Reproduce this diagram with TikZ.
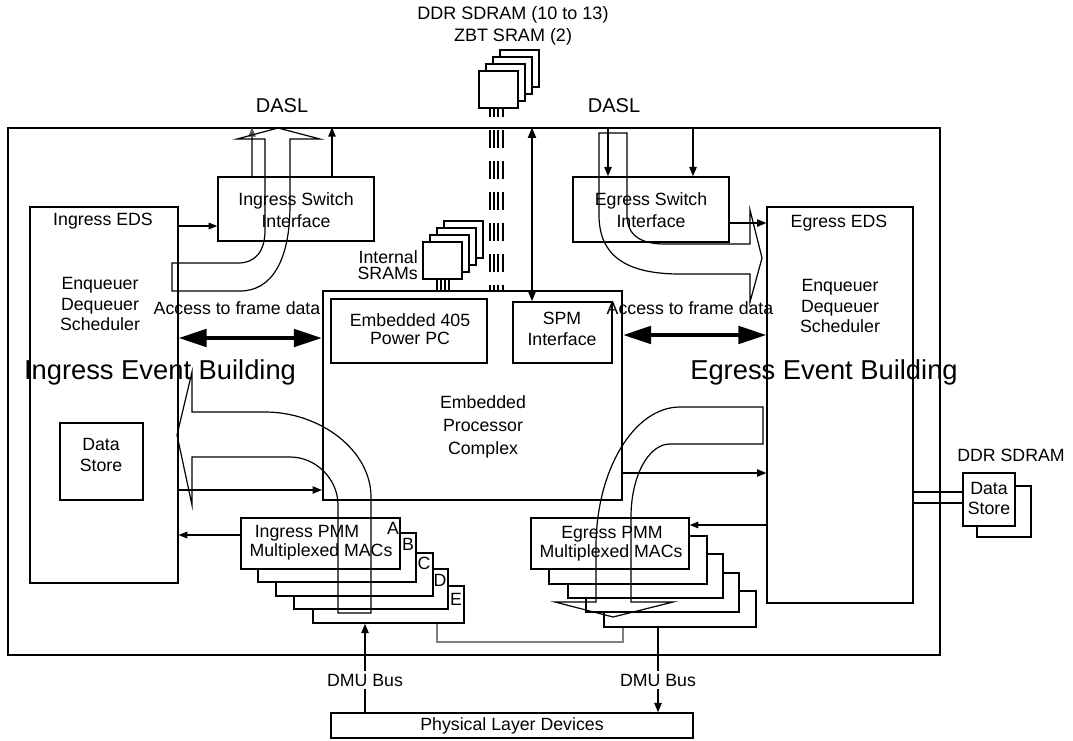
\documentclass[tikz,border=0pt]{standalone}
\usepackage{fontspec}
\setmainfont{Liberation Sans}
\usetikzlibrary{arrows.meta,fit}
\begin{document}
\begin{tikzpicture}[x=0.75pt,y=-0.75pt,
  box/.style={draw, line width=1.1pt, fill=white, inner sep=0pt},
  tbox/.style={box, line width=1.6pt},
  txt/.style={font=\fontsize{13.3}{16}\selectfont, align=center, inner sep=0pt},
  big/.style={font=\fontsize{20.5}{24}\selectfont, inner sep=0pt},
  hollow/.style={line width=0.9pt, black},
  arr/.style={line width=1.1pt, -{Triangle[length=7pt,width=5.5pt]}},
  thinarr/.style={line width=0.8pt, -{Triangle[length=6.5pt,width=5pt]}},
  bigarr/.style={line width=3pt, {Triangle[length=21pt,width=13pt]}-{Triangle[length=21pt,width=13pt]}},
  dbl/.style={line width=1.5pt, {Triangle[length=8pt,width=6pt]}-{Triangle[length=8pt,width=6pt]}},
  dashbus/.style={line width=1.1pt, dash pattern=on 13.5pt off 9.75pt, dash phase=7.5pt},
]
\useasboundingbox (0,0) rectangle (1073,740);
% board
\node[draw, line width=1.1pt, inner sep=0pt, fit={(8,128) (940,655)}] (board) {};
% top memory stack
\node[box, fit={(500,50) (539,87)}] (m4) {};
\node[box, fit={(493,57) (532,94)}] (m3) {};
\node[box, fit={(486,64) (525,101)}] (m2) {};
\node[box, fit={(479,71) (518,108)}] (m1) {};
\node[txt, font=\fontsize{13.5}{16.5}\selectfont] (ddrt) at (513,26) {DDR SDRAM (10 to 13)\\ZBT SRAM (2)};
% DASL labels
\node[txt, font=\fontsize{15}{18}\selectfont] (dasl1) at (282,106) {DASL};
\node[txt, font=\fontsize{15}{18}\selectfont] (dasl2) at (614,106) {DASL};
% main blocks
\node[box, line width=0.9pt, fit={(30,207) (178,583)}] (ieds) {};
\node[box, fit={(60,423) (143,500)}] (ids) {};
\node[box, line width=0.9pt, fit={(767,207) (913,603)}] (eeds) {};
\node[box, fit={(218,177) (374,241)}] (isi) {};
\node[box, fit={(573,177) (729,242)}] (esi) {};
\node[tbox, fit={(323,291) (622,500)}] (proc) {};
\node[box, fit={(331,299) (487,363)}] (ppc) {};
\node[box, fit={(513,302) (612,363)}] (spm) {};
% internal SRAMs
\node[box, fit={(444,221) (483,258)}] (s4) {};
\node[box, fit={(437,228) (476,265)}] (s3) {};
\node[box, fit={(430,235) (469,272)}] (s2) {};
\node[box, fit={(423,242) (462,279)}] (s1) {};
\foreach \x in {437,441,445,449} \draw[line width=1.1pt] (s1.south -| \x,0) -- (proc.north -| \x,0);
\foreach \x in {490,494,498,503} \draw[dashbus] (m1.south -| \x,0) -- (proc.north -| \x,0);
% Ingress PMM stack
\node[box, fit={(313,586) (464,623)}] (ip5) {};
\node[box, fit={(294,569) (448,609)}] (ip4) {};
\node[box, fit={(276,553) (433,596)}] (ip3) {};
\node[box, fit={(258,533) (416,582)}] (ip2) {};
\node[box, fit={(241,518) (400,569)}] (ip1) {};
% Egress PMM stack
\node[box, fit={(604,591) (756,627)}] (ep5) {};
\node[box, fit={(586,573) (739,612)}] (ep4) {};
\node[box, fit={(568,554) (723,598)}] (ep3) {};
\node[box, fit={(549,536) (707,584)}] (ep2) {};
\node[box, fit={(531,518) (689,569)}] (ep1) {};
% physical layer
\node[box, fit={(331,713) (693,738)}] (phys) {};
% external data store
\node[box, fit={(977,486) (1031,537)}] (xds2) {};
\node[box, fit={(963,473) (1015,526)}] (xds1) {};
\draw[line width=1.1pt] (eeds.east |- 0,492) -- (xds1.west |- 0,492);
\draw[line width=1.1pt] (eeds.east |- 0,503) -- (xds1.west |- 0,503);
% connector between PMM stacks
\draw[line width=0.8pt, gray] (ip5.south -| 437,0) -- (437,642) -- (623,642) -- (ep5.south -| 623,0);
% switch interface arrows
\draw[arr, draw=gray!70!black] (isi.north -| 252,0) -- (board.north -| 252,0);
\draw[arr] (isi.north -| 332,0) -- (board.north -| 332,0);
\draw[arr] (board.north -| 608,0) -- (esi.north -| 608,0);
\draw[arr] (board.north -| 693,0) -- (esi.north -| 693,0);
\draw[dbl] (board.north -| 532,0) -- (spm.north -| 532,0);
\draw[thinarr] (ieds.east |- 0,226) -- (isi.west |- 0,226);
\draw[arr] (esi.east |- 0,223) -- (eeds.west |- 0,223);
\draw[arr] (ieds.east |- 0,490) -- (proc.west |- 0,490);
\draw[arr] (proc.east |- 0,473) -- (eeds.west |- 0,473);
\draw[thinarr] (ip1.west |- 0,535) -- (ieds.east |- 0,535);
\draw[thinarr] (eeds.west |- 0,525) -- (ep1.east |- 0,525);
\draw[bigarr] (ieds.east |- 0,338) -- (proc.west |- 0,338);
\draw[bigarr] (proc.east |- 0,335) -- (eeds.west |- 0,335);
% DMU buses
\draw[arr] (phys.north -| 365,0) -- (ip5.south -| 365,0);
\draw[arr] (ep5.south -| 658,0) -- (phys.north -| 658,0);
\node[txt, fill=white, inner sep=2pt] (dmu1) at (365,680) {DMU Bus};
\node[txt, fill=white, inner sep=2pt] (dmu2) at (658,680) {DMU Bus};
% hollow flow arrows
\draw[hollow] (172,263) -- (238,263) .. controls (255,263) and (265,252) .. (265,230) -- (265,139) -- (237,139) -- (278,128) -- (320,139) -- (290,139) -- (290,205) .. controls (290,260) and (272,291) .. (240,291) -- (172,291) -- cycle;
\draw[hollow] (599,133) -- (627,133) -- (627,215) .. controls (627,235) and (640,244) .. (665,244) -- (750,244) -- (750,210) -- (762,258) -- (750,302) -- (750,274) -- (680,274) .. controls (625,274) and (599,255) .. (599,215) -- cycle;
\draw[hollow] (338,613) -- (371,613) -- (371,497) .. controls (371,450) and (320,412) .. (265,412) -- (192,412) -- (192,372) -- (177,435) -- (192,505) -- (192,457) -- (290,457) .. controls (316,457) and (338,479) .. (338,505) -- cycle;
\draw[hollow] (763,407) -- (763,444) -- (670,444) .. controls (648,444) and (631,477) .. (631,517) -- (631,602) -- (673,602) -- (613,617) -- (555,602) -- (596,602) -- (596,547) .. controls (596,470) and (634,407) .. (680,407) -- cycle;
% texts
\node[txt] (isit) at (296,210) {Ingress Switch\\Interface};
\node[txt] (esit) at (651,210) {Egress Switch\\Interface};
\node[txt] (iedst) at (103,221) {Ingress EDS};
\node[txt, font=\fontsize{13.3}{15.5}\selectfont] (iedsq) at (100,304) {Enqueuer\\Dequeuer\\Scheduler};
\node[txt] (edst) at (839,223) {Egress EDS};
\node[txt, font=\fontsize{13.3}{15.5}\selectfont] (eedsq) at (840,306) {Enqueuer\\Dequeuer\\Scheduler};
\node[txt] (idst) at (101,455) {Data\\Store};
\node[txt, font=\fontsize{13.3}{13.5}\selectfont] (ppct) at (410,329) {Embedded 405\\Power PC};
\node[txt] (spmt) at (562,329) {SPM\\Interface};
\node[txt, font=\fontsize{13.3}{17}\selectfont] (proct) at (483,427) {Embedded\\Processor\\Complex};
\node[txt, align=right, anchor=east, font=\fontsize{13.3}{12.5}\selectfont] (isramt) at (418,265) {Internal\\SRAMs};
\node[txt] (af1) at (237,308) {Access to frame data};
\node[txt] (af2) at (690,308) {Access to frame data};
\node[big] (ieb) at (160,372) {Ingress Event Building};
\node[big] (eeb) at (824,372) {Egress Event Building};
\node[txt, anchor=base] (ipt1) at (307,537) {Ingress PMM};
\node[txt, anchor=base] (ipt2) at (321,556) {Multiplexed MACs};
\node[txt, anchor=base] (ept1) at (612,538) {Egress PMM};
\node[txt, anchor=base] (ept2) at (611,557) {Multiplexed MACs};
\node[txt] (la) at (393,528) {A};
\node[txt] (lb) at (408,544) {B};
\node[txt] (lc) at (424,563) {C};
\node[txt] (ld) at (440,580) {D};
\node[txt] (le) at (456,599) {E};
\node[txt] (physt) at (512,726) {Physical Layer Devices};
\node[txt] (xddr) at (1011,455) {DDR SDRAM};
\node[txt, font=\fontsize{13.3}{15}\selectfont] (xdst) at (989,498) {Data\\Store};
\end{tikzpicture}
\end{document}
